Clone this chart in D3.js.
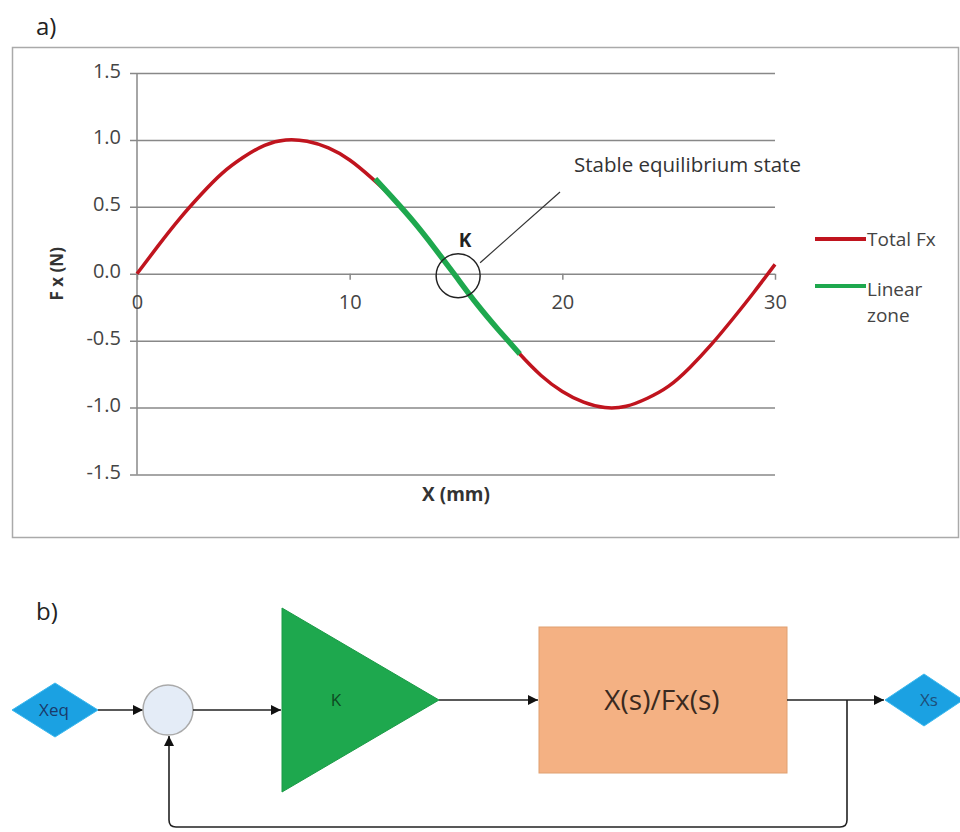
<html>
    <head>
        <meta charset="utf-8">
    </head>
    <body style="margin:0; background:#fff;">
        <script src="https://d3js.org/d3.v7.min.js"></script>
        <div id="my_dataviz"></div>

        <script type='text/JavaScript'>
            // force curve read off the plot
            var xMm = [0, 1, 2, 3, 4, 5, 6, 7, 8, 9, 10, 11, 12, 13, 14, 15, 16, 17, 18, 19, 20, 21, 22, 23, 24, 25, 26, 27, 28, 29, 30];
            var fxN = [0.00, 0.21, 0.41, 0.59, 0.75, 0.87, 0.96, 1.00, 0.99, 0.94, 0.85, 0.72, 0.57, 0.39, 0.19, -0.02,
                       -0.23, -0.42, -0.60, -0.76, -0.88, -0.96, -1.00, -0.99, -0.93, -0.84, -0.70, -0.53, -0.34, -0.14, 0.07];
            // linear zone around the equilibrium
            var linearX = [11.2, 12, 13, 14, 15, 16, 17, 18];
            var linearFx = [0.71, 0.57, 0.39, 0.19, -0.02, -0.23, -0.42, -0.60];

            var yTicks = [-1.5, -1.0, -0.5, 0.0, 0.5, 1.0, 1.5];
            var xTicks = [0, 10, 20, 30];
            var seriesNames = ["Total Fx", "Linear zone"];
            var equilibrium = [15.1, 0];

            var font = "'Open Sans', 'Noto Sans', sans-serif";

            var svg = d3.select("#my_dataviz").append("svg")
                .attr("width", 960).attr("height", 832)
                .style("font-family", font);

            // ---------- a) ----------
            svg.append("text").attr("x", 36).attr("y", 35)
                .attr("font-size", 24).attr("fill", "#222").text("a)");

            svg.append("rect").attr("x", 12.5).attr("y", 47.5).attr("width", 946).attr("height", 490)
                .attr("fill", "none").attr("stroke", "#aaa").attr("stroke-width", 1.5);

            var xScale = d3.scaleLinear().domain([0, 30]).range([137, 775]);
            var yScale = d3.scaleLinear().domain([-1.5, 1.5]).range([474.5, 73]);

            // gridlines + y labels
            var yAxis = d3.axisLeft(yScale)
                .tickValues(yTicks)
                .tickSize(-(775 - 130))
                .tickPadding(9)
                .tickFormat((d) => d.toFixed(1));
            var gy = svg.append("g").attr("transform", "translate(130,0)").call(yAxis);
            gy.select(".domain").remove();
            gy.selectAll("line").attr("stroke", "#888").attr("stroke-width", 1.5);
            gy.selectAll("text").attr("font-size", 20).attr("fill", "#444").attr("font-family", font)
                .attr("dy", "0.2em");

            // vertical axis line
            svg.append("line")
                .attr("x1", xScale(0)).attr("x2", xScale(0))
                .attr("y1", yScale(1.5)).attr("y2", yScale(-1.5))
                .attr("stroke", "#888").attr("stroke-width", 1.5);

            // x axis at zero
            var xAxis = d3.axisBottom(xScale)
                .tickValues(xTicks)
                .tickSize(6)
                .tickPadding(15);
            var gx = svg.append("g").attr("transform", "translate(0," + yScale(0) + ")").call(xAxis);
            gx.select(".domain").remove();
            gx.selectAll("line").attr("stroke", "#888").attr("stroke-width", 1.5);
            gx.selectAll("text").attr("font-size", 20).attr("fill", "#444").attr("font-family", font);

            // axis titles
            svg.append("text")
                .attr("transform", "translate(63," + yScale(0) + ") rotate(-90)")
                .attr("text-anchor", "middle")
                .attr("font-size", 17).attr("font-weight", "bold").attr("fill", "#333")
                .text("F x (N)");
            svg.append("text")
                .attr("x", 456).attr("y", 501)
                .attr("text-anchor", "middle")
                .attr("font-size", 19).attr("font-weight", "bold").attr("fill", "#333")
                .text("X (mm)");

            var lineGen = d3.line()
                .x((d) => xScale(d[0]))
                .y((d) => yScale(d[1]))
                .curve(d3.curveNatural);

            var totalPts = xMm.map((x, i) => [x, fxN[i]]);
            var linearPts = linearX.map((x, i) => [x, linearFx[i]]);

            svg.append("path").datum(totalPts)
                .attr("d", lineGen).attr("fill", "none")
                .attr("stroke", "#c0141e").attr("stroke-width", 3.5);
            svg.append("path").datum(linearPts)
                .attr("d", lineGen).attr("fill", "none")
                .attr("stroke", "#1ea84e").attr("stroke-width", 5.5);

            // annotation
            var ex = xScale(equilibrium[0]), ey = yScale(equilibrium[1]) + 2;
            svg.append("circle").attr("cx", ex).attr("cy", ey).attr("r", 22)
                .attr("fill", "none").attr("stroke", "#222").attr("stroke-width", 1.5);
            svg.append("text").attr("x", ex + 7).attr("y", ey - 29)
                .attr("text-anchor", "middle").attr("font-size", 19).attr("font-weight", "bold")
                .attr("fill", "#222").text("K");
            svg.append("line").attr("x1", ex + 22).attr("y1", ey - 13)
                .attr("x2", 560).attr("y2", 192)
                .attr("stroke", "#333").attr("stroke-width", 1.2);
            svg.append("text").attr("x", 574).attr("y", 172)
                .attr("font-size", 20.5).attr("fill", "#333").text("Stable equilibrium state");

            // legend
            var legendColors = ["#c0141e", "#1ea84e"];
            var lg = svg.append("g");
            seriesNames.forEach((name, i) => {
                var ly = 239 + i * 47;
                lg.append("line").attr("x1", 815).attr("x2", 866).attr("y1", ly).attr("y2", ly)
                    .attr("stroke", legendColors[i]).attr("stroke-width", 4);
                var words = i === 0 ? [name] : name.split(" ");
                words.forEach((w, j) => {
                    lg.append("text").attr("x", 867).attr("y", ly + 7 + (i === 0 ? 0 : 3) + j * 26)
                        .attr("font-size", 19).attr("fill", "#444").text(w);
                });
            });

            // ---------- b) ----------
            svg.append("text").attr("x", 36).attr("y", 620)
                .attr("font-size", 24).attr("fill", "#222").text("b)");

            var defs = svg.append("defs");
            defs.append("marker").attr("id", "arr")
                .attr("viewBox", "0 0 10 10").attr("refX", 10).attr("refY", 5)
                .attr("markerWidth", 11).attr("markerHeight", 10)
                .attr("markerUnits", "userSpaceOnUse")
                .attr("orient", "auto")
                .append("path").attr("d", "M0,0 L10,5 L0,10 z").attr("fill", "#111");

            function arrow(d) {
                svg.append("path").attr("d", d).attr("fill", "none")
                    .attr("stroke", "#222").attr("stroke-width", 1.6)
                    .attr("marker-end", "url(#arr)");
            }

            // Xeq
            svg.append("path").attr("d", "M12,710 L55,683 L98,710 L55,737 Z")
                .attr("fill", "#1ba1e2").attr("stroke", "#3ab8ee");
            svg.append("text").attr("x", 54).attr("y", 716).attr("text-anchor", "middle")
                .attr("font-size", 17).attr("fill", "#1a3a6a").text("Xeq");

            arrow("M98,710 L143,710");
            svg.append("circle").attr("cx", 168).attr("cy", 710).attr("r", 25)
                .attr("fill", "#e4ecf7").attr("stroke", "#aaa").attr("stroke-width", 1.5);
            arrow("M193,710 L281,710");

            // gain triangle
            svg.append("path").attr("d", "M282,608 L439,700 L282,792 Z")
                .attr("fill", "#1ea84e").attr("stroke", "#1a9a46");
            svg.append("text").attr("x", 336).attr("y", 706).attr("text-anchor", "middle")
                .attr("font-size", 17).attr("fill", "#0d4a22").text("K");

            arrow("M439,700 L538,700");

            // plant
            svg.append("rect").attr("x", 539).attr("y", 627).attr("width", 248).attr("height", 146)
                .attr("fill", "#f4b183").attr("stroke", "#e0a070").attr("stroke-width", 1);
            svg.append("text").attr("x", 662).attr("y", 710).attr("text-anchor", "middle")
                .attr("font-size", 28).attr("fill", "#3a2a20").text("X(s)/Fx(s)");

            arrow("M787,700 L884,700");

            // Xs
            svg.append("path").attr("d", "M885,700 L924,674 L963,700 L924,726 Z")
                .attr("fill", "#1ba1e2").attr("stroke", "#3ab8ee");
            svg.append("text").attr("x", 929).attr("y", 706).attr("text-anchor", "middle")
                .attr("font-size", 17).attr("fill", "#1e4f7a").text("Xs");

            // feedback loop
            arrow("M847,700 L847,820 Q847,827 840,827 L176,827 Q169,827 169,820 L169,736");
        </script>
    </body>
</html>
